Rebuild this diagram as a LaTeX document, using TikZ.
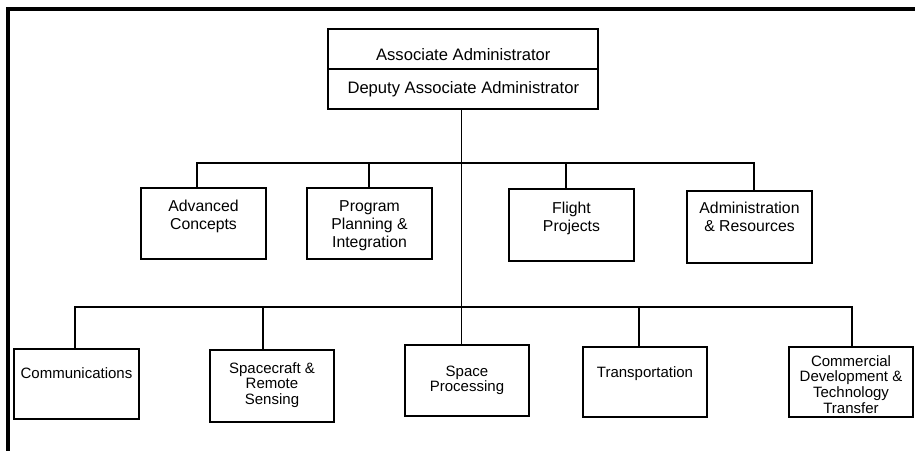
\documentclass[tikz,border=0pt]{standalone}
\usepackage{fontspec}
\setmainfont{Liberation Sans}

% fixed-size cell: height, width, first-baseline drop, text
\newcommand{\celltext}[4]{\parbox[c][#1pt][t]{#2pt}{\centering\rule{0pt}{#3pt}#4}}
\newcommand{\headfont}{\fontsize{16.6}{18}\selectfont}
\newcommand{\midfont}{\fontsize{15.8}{18}\selectfont}
\newcommand{\lowfont}{\fontsize{15}{15.8}\selectfont}

\begin{document}
\begin{tikzpicture}[x=1pt, y=-1pt,
  unitbox/.style={draw=black, line width=2pt, inner sep=0pt, outer sep=0pt},
  link/.style={draw=black, line width=1.9pt},
  frame/.style={draw=black, line width=3.2pt}]
\useasboundingbox (0,0) rectangle (915,450);

% outer frame (top and left edges)
\draw[frame] (8,452) -- (8,9) -- (917,9);

% head office
\node[unitbox, font=\headfont] (aa)  at (463.3,49) {\celltext{40}{270}{31}{Associate Administrator}};
\node[unitbox, font=\headfont] (daa) at (463.3,89) {\celltext{40}{270}{24}{Deputy Associate Administrator}};

% staff offices
\node[unitbox, font=\midfont] (adv)   at (203.5,223.5) {\celltext{71}{125}{23}{Advanced\\Concepts}};
\node[unitbox, font=\midfont] (prog)  at (369.5,223.5) {\celltext{71}{125}{23}{Program\\Planning \&\\Integration}};
\node[unitbox, font=\midfont] (fly)   at (571.5,225)   {\celltext{72}{125}{24}{Flight\\Projects}};
\node[unitbox, font=\midfont] (admin) at (749.5,227)   {\celltext{72}{125}{22}{Administration\\\& Resources}};

% program divisions
\node[unitbox, font=\lowfont] (comm)  at (76.5,384)  {\celltext{70}{125}{29}{Communications}};
\node[unitbox, font=\lowfont] (craft) at (272,386)   {\celltext{72}{124}{23}{Spacecraft \&\\Remote\\Sensing}};
\node[unitbox, font=\lowfont] (proc)  at (467,380.5) {\celltext{71}{124}{31}{Space\\Processing}};
\node[unitbox, font=\lowfont] (trans) at (645,382)   {\celltext{70}{124}{30}{Transportation}};
\node[unitbox, font=\lowfont] (cdtt)  at (851,382)   {\celltext{70}{124}{19}{Commercial\\Development \&\\Technology\\Transfer}};

% branch points on the spine
\coordinate (hub2) at (461.5,163);
\coordinate (hub3) at (461.5,307);

% spine
\draw[link] (daa.south -| hub2) -- (proc.north -| hub2);

% staff office bar and drops
\draw[link] ([xshift=-6.5pt]adv.north) |- ([xshift=4.5pt]admin.north |- hub2) -- ([xshift=4.5pt]admin.north);
\draw[link] ([xshift=-0.5pt]prog.north) -- ([xshift=-0.5pt]prog.north |- hub2);
\draw[link] ([xshift=-5.5pt]fly.north) -- ([xshift=-5.5pt]fly.north |- hub2);

% division bar and drops
\draw[link] ([xshift=-1.5pt]comm.north) |- ([xshift=1pt]cdtt.north |- hub3) -- ([xshift=1pt]cdtt.north);
\draw[link] ([xshift=-9pt]craft.north) -- ([xshift=-9pt]craft.north |- hub3);
\draw[link] ([xshift=-6pt]trans.north) -- ([xshift=-6pt]trans.north |- hub3);
\end{tikzpicture}
\end{document}
